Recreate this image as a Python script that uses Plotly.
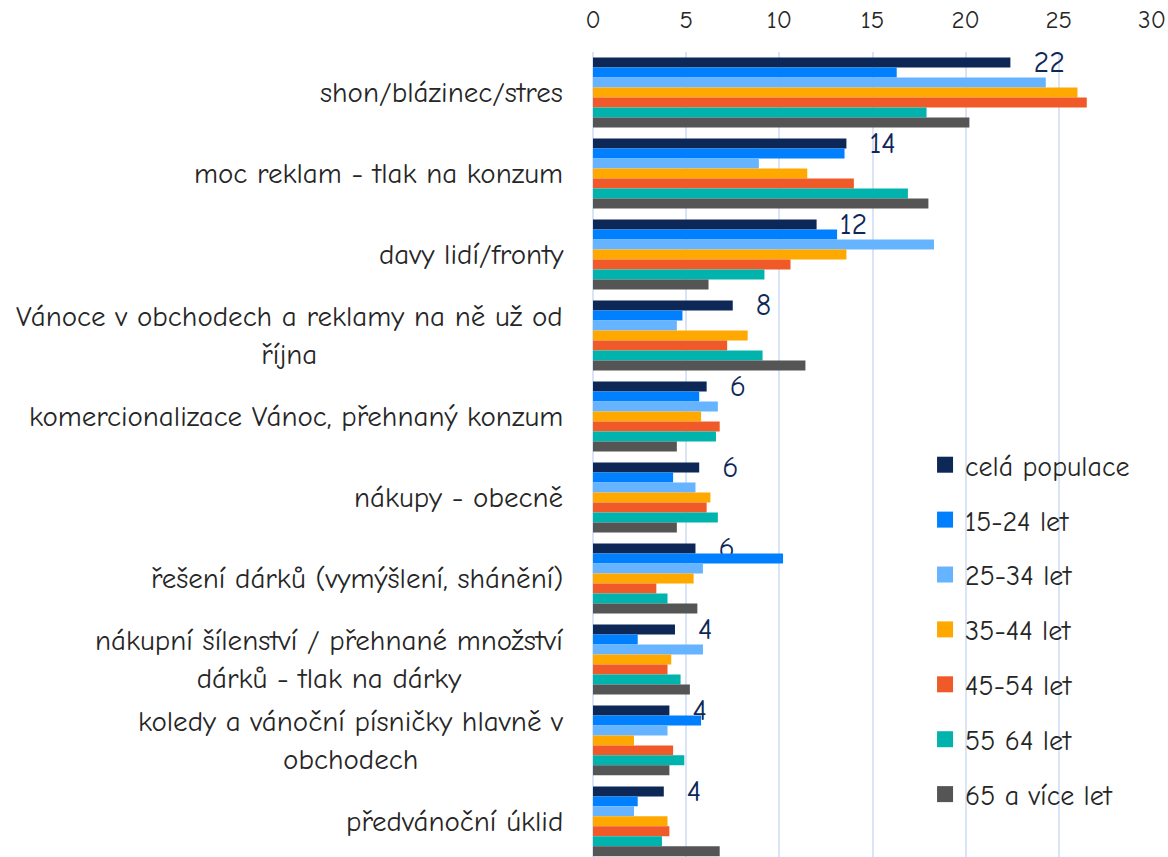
import plotly.graph_objects as go

categories = [
    "shon/blázinec/stres",
    "moc reklam - tlak na konzum",
    "davy lidí/fronty",
    "Vánoce v obchodech a reklamy na ně už od<br>října",
    "komercionalizace Vánoc, přehnaný konzum",
    "nákupy - obecně",
    "řešení dárků (vymýšlení, shánění)",
    "nákupní šílenství / přehnané množství<br>dárků - tlak na dárky",
    "koledy a vánoční písničky hlavně v<br>obchodech",
    "předvánoční úklid",
]

series_names = ["celá populace", "15-24 let", "25-34 let", "35-44 let",
                "45-54 let", "55 64 let", "65 a více let"]

cela_populace = [22.4, 13.6, 12.0, 7.5, 6.1, 5.7, 5.5, 4.4, 4.1, 3.8]
let_15_24 = [16.3, 13.5, 13.1, 4.8, 5.7, 4.3, 10.2, 2.4, 5.8, 2.4]
let_25_34 = [24.3, 8.9, 18.3, 4.5, 6.7, 5.5, 5.9, 5.9, 4.0, 2.2]
let_35_44 = [26.0, 11.5, 13.6, 8.3, 5.8, 6.3, 5.4, 4.2, 2.2, 4.0]
let_45_54 = [26.5, 14.0, 10.6, 7.2, 6.8, 6.1, 3.4, 4.0, 4.3, 4.1]
let_55_64 = [17.9, 16.9, 9.2, 9.1, 6.6, 6.7, 4.0, 4.7, 4.9, 3.7]
let_65_plus = [20.2, 18.0, 6.2, 11.4, 4.5, 4.5, 5.6, 5.2, 4.1, 6.8]

series_values = [cela_populace, let_15_24, let_25_34, let_35_44,
                 let_45_54, let_55_64, let_65_plus]
colors = ["#0D2857", "#0080FF", "#66B3FF", "#FFA800", "#F05A28", "#00B3AD", "#555555"]

FONT = "Comic Sans MS, Comic Neue, Noto Sans, sans-serif"
TEXT_COLOR = "#262626"
GRID = "#D9E4F6"

fig = go.Figure()
for i, (name, vals, col) in enumerate(zip(series_names, series_values, colors)):
    kwargs = {}
    if i == 0:
        kwargs = dict(
            text=vals,
            texttemplate="\u00a0\u00a0%{x:.0f}",
            textposition="outside",
            constraintext="none",
            cliponaxis=False,
            textfont=dict(family=FONT, size=30, color="#0D2857"),
        )
    fig.add_trace(go.Bar(
        x=vals, y=categories, orientation="h", name=name,
        marker=dict(color=col, line=dict(width=0)),
        showlegend=False, hoverinfo="x+y", **kwargs,
    ))

# legend proxies (square symbols)
for i, (name, col) in enumerate(zip(series_names, colors)):
    fig.add_trace(go.Scatter(
        x=[None], y=[None], mode="markers", name=name,
        marker=dict(symbol="square", size=16, color=col),
        legendgroup=f"g{i}", showlegend=True,
    ))

annotations = []
for c in categories:
    annotations.append(dict(
        x=0, xref="paper", y=c, yref="y", text=c, showarrow=False,
        xanchor="right", yanchor="middle", align="center", xshift=-28,
        font=dict(family=FONT, size=29, color=TEXT_COLOR),
    ))

fig.update_layout(
    width=1168, height=857,
    margin=dict(l=593, r=16, t=52, b=0),
    paper_bgcolor="white", plot_bgcolor="white",
    barmode="group", bargap=0.136, bargroupgap=0,
    font=dict(family=FONT, color=TEXT_COLOR),
    annotations=annotations,
    legend=dict(
        x=0.594, xanchor="left", y=0.518, yanchor="top",
        bgcolor="rgba(0,0,0,0)", borderwidth=0,
        font=dict(family=FONT, size=28, color=TEXT_COLOR),
        tracegroupgap=15.5, itemsizing="trace", traceorder="grouped",
    ),
    xaxis=dict(
        side="top", range=[0, 30], dtick=5, tick0=0,
        showgrid=True, gridcolor=GRID, gridwidth=1.5,
        zeroline=True, zerolinecolor=GRID, zerolinewidth=2,
        showline=False, ticks="", ticklabelstandoff=18,
        tickfont=dict(family=FONT, size=25, color=TEXT_COLOR),
        fixedrange=True,
    ),
    yaxis=dict(
        type="category", categoryorder="array", categoryarray=categories,
        range=[9.44, -0.5], showticklabels=False, showgrid=False,
        zeroline=False, showline=False, ticks="",
    ),
)

fig.write_html(
    "out.html",
    config={"displayModeBar": False},
    post_script="document.body.style.margin='0';document.body.style.overflow='hidden';",
)
